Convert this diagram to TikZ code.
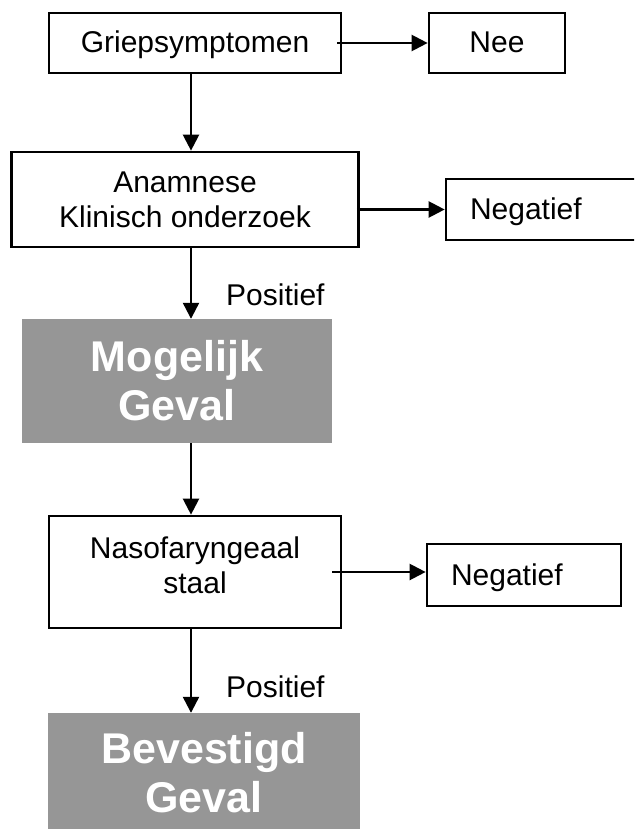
\documentclass[tikz,border=0pt]{standalone}
\usepackage{fontspec}
\setmainfont{Liberation Sans}
\usetikzlibrary{arrows.meta}
\definecolor{boxgray}{RGB}{150,150,150}
\begin{document}
\begin{tikzpicture}[x=1pt,y=-1pt,
  box/.style={draw=black, line width=2.7pt, rectangle, inner sep=0pt, align=center, font=\fontsize{30}{35}\selectfont},
  onebox/.style={box, text height=22pt, text depth=2pt},
  negbox/.style={onebox, align=left, inner xsep=24pt, text width=146pt},
  graybox/.style={fill=boxgray, draw=none, rectangle, inner sep=0pt, align=center, text=white, font=\fontsize{43}{49}\selectfont\bfseries},
  arr/.style={line width=2.3pt, -{Triangle[length=16pt,width=16pt]}},
  lbl/.style={inner sep=0pt, font=\fontsize{30}{35}\selectfont, anchor=west},
  boxtext/.style={inner sep=0pt, align=center, font=\fontsize{30}{35}\selectfont}]
\clip (0,0) rectangle (634,829);
\fill[white] (0,0) rectangle (634,829);
\coordinate (col) at (191,0);
\node[onebox, minimum width=292pt, minimum height=60pt] (griep) at (195,43) {Griepsymptomen};
\node[onebox, minimum width=136pt, minimum height=60pt] (nee) at (497,43) {Nee};
\node[box, minimum width=347pt, minimum height=95pt] (anam) at (185,199.5) {Anamnese\\Klinisch onderzoek};
\node[negbox, minimum width=194pt, minimum height=61pt] (neg1) at (543,209.5) {Negatief};
\node[graybox, minimum width=310pt, minimum height=124pt] (mog) at (177,381) {Mogelijk\\Geval};
\node[box, minimum width=292pt, minimum height=112pt] (naso) at (195,572) {};
\node[boxtext] (nasotext) at (195,565) {Nasofaryngeaal\\staal};
\node[negbox, minimum width=194pt, minimum height=62pt] (neg2) at (524,575) {Negatief};
\node[graybox, minimum width=312pt, minimum height=120pt] (bev) at (204,773) {Bevestigd\\Geval};
\node[lbl] (pos1) at (226,295) {Positief};
\node[lbl] (pos2) at (226,687) {Positief};
\path (anam.east |- neg1.west) coordinate (a1);
\path (neg2.west |- naso.east) coordinate (a2);
\draw[arr] ([xshift=-5pt]griep.east) -- (nee.west);
\draw[arr] ([xshift=-3pt]a1) -- (neg1.west);
\draw[arr] ([xshift=-10pt]naso.east) -- (a2);
\draw[arr] (griep.south -| col) -- (anam.north -| col);
\draw[arr] (anam.south -| col) -- (mog.north -| col);
\draw[arr] (mog.south -| col) -- (naso.north -| col);
\draw[arr] (naso.south -| col) -- (bev.north -| col);
\end{tikzpicture}
\end{document}
